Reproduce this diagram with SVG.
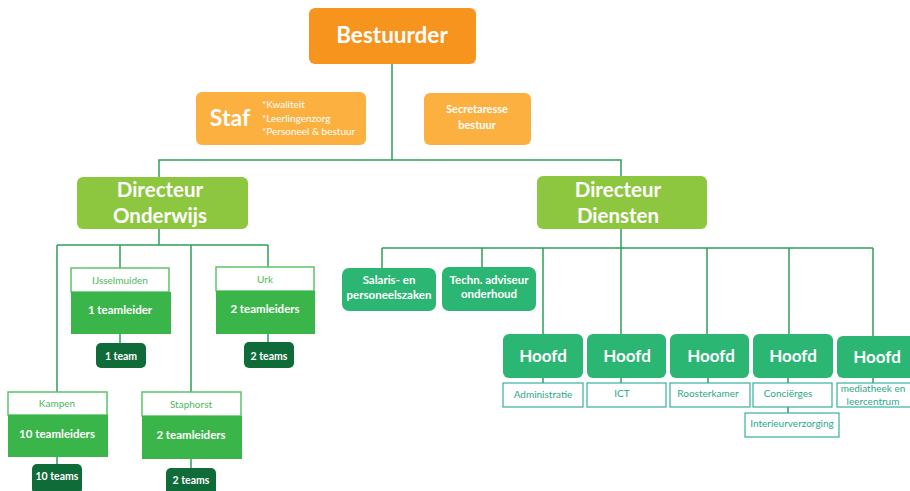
<svg xmlns="http://www.w3.org/2000/svg" width="910" height="491" viewBox="0 0 910 491">
<style>
text{font-family:Lato,"Open Sans","Liberation Sans",sans-serif;text-anchor:middle}
.w{fill:#fff;font-weight:bold}
.con line,.con polyline{stroke:#2E9E5B;stroke-width:1.5;fill:none}
.org{fill:#F7941D}
.lor{fill:#FBB040}
.dir{fill:#8DC63F}
.grn{fill:#3AB54A}
.med{fill:#2BB673}
.dk{fill:#0F6B37}
.wb{fill:#fff;stroke:#5CC36A;stroke-width:1.5}
.tb{fill:#fff;stroke:#35B0A0;stroke-width:1.2}
.gt{fill:#4DB860;font-size:10px}
.tt{fill:#2AA88A;font-size:10px}
</style>
<g id="connectors" class="con">
<line x1="392" y1="64" x2="392" y2="160"/>
<polyline points="159,177 159,160 621,160 621,177"/>
<line x1="159" y1="229" x2="159" y2="245"/>
<line x1="57" y1="245" x2="268" y2="245"/>
<line x1="57" y1="245" x2="57" y2="392"/>
<line x1="120" y1="245" x2="120" y2="268"/>
<line x1="191" y1="245" x2="191" y2="392"/>
<line x1="268" y1="245" x2="268" y2="267"/>
<line x1="120" y1="334" x2="120" y2="343"/>
<line x1="268" y1="334" x2="268" y2="342"/>
<line x1="57" y1="457" x2="57" y2="464"/>
<line x1="191" y1="459" x2="191" y2="468"/>
<line x1="621" y1="229" x2="621" y2="334"/>
<line x1="382" y1="248" x2="873" y2="248"/>
<line x1="382" y1="248" x2="382" y2="268"/>
<line x1="482" y1="248" x2="482" y2="267"/>
<line x1="543" y1="248" x2="543" y2="334"/>
<line x1="707" y1="248" x2="707" y2="334"/>
<line x1="789" y1="248" x2="789" y2="334"/>
<line x1="873" y1="248" x2="873" y2="336"/>
<line x1="543" y1="378" x2="543" y2="383"/>
<line x1="621" y1="378" x2="621" y2="383"/>
<line x1="708" y1="378" x2="708" y2="383"/>
<line x1="788" y1="378" x2="788" y2="383"/>
<line x1="873" y1="378" x2="873" y2="383"/>
<line x1="788" y1="407" x2="788" y2="413"/>
</g>
<g id="bestuurder"><rect class="org" x="309" y="8" width="167" height="56" rx="6"/><text class="w" x="392" y="43" font-size="22.5">Bestuurder</text></g>
<g id="staf"><rect class="lor" x="196" y="92" width="170" height="53" rx="6"/><text class="w" x="230" y="126" font-size="23">Staf</text>
<text fill="#fff" font-size="10" style="text-anchor:start" x="262" y="108">*Kwaliteit</text>
<text fill="#fff" font-size="10" style="text-anchor:start" x="262" y="122">*Leerlingenzorg</text>
<text fill="#fff" font-size="10" style="text-anchor:start" x="262" y="135">*Personeel &amp; bestuur</text></g>
<g id="secretaresse"><rect class="lor" x="424" y="93" width="107" height="52" rx="6"/><text class="w" x="477" y="113" font-size="11">Secretaresse</text><text class="w" x="477" y="129" font-size="11">bestuur</text></g>
<g id="dir-onderwijs"><rect class="dir" x="77" y="177" width="171" height="52" rx="6"/><text class="w" x="160" y="197" font-size="20.5">Directeur</text><text class="w" x="160" y="223" font-size="20.5">Onderwijs</text></g>
<g id="dir-diensten"><rect class="dir" x="537" y="176" width="170" height="53" rx="6"/><text class="w" x="618" y="197" font-size="20.5">Directeur</text><text class="w" x="618" y="223" font-size="20.5">Diensten</text></g>
<g id="ijsselmuiden"><rect class="wb" x="71" y="268" width="98" height="24"/><text class="gt" x="120" y="284">IJsselmuiden</text><rect class="grn" x="71" y="292" width="100" height="42"/><text class="w" x="120" y="314" font-size="11.5">1 teamleider</text></g>
<g id="team-ijs"><rect class="dk" x="96" y="343" width="50" height="25" rx="5"/><text class="w" x="121" y="360" font-size="10.5">1 team</text></g>
<g id="urk"><rect class="wb" x="216" y="267" width="98" height="24"/><text class="gt" x="265" y="283">Urk</text><rect class="grn" x="216" y="291" width="99" height="43"/><text class="w" x="265" y="313" font-size="11.5">2 teamleiders</text></g>
<g id="team-urk"><rect class="dk" x="244" y="342" width="50" height="26" rx="5"/><text class="w" x="269" y="360" font-size="10.5">2 teams</text></g>
<g id="kampen"><rect class="wb" x="8" y="392" width="99" height="23"/><text class="gt" x="57" y="407">Kampen</text><rect class="grn" x="8" y="415" width="100" height="42"/><text class="w" x="57" y="438" font-size="11.5">10 teamleiders</text></g>
<g id="team-kampen"><rect class="dk" x="32" y="464" width="50" height="30" rx="5"/><text class="w" x="57" y="480" font-size="10.5">10 teams</text></g>
<g id="staphorst"><rect class="wb" x="142" y="392" width="99" height="24"/><text class="gt" x="191" y="408">Staphorst</text><rect class="grn" x="142" y="416" width="100" height="43"/><text class="w" x="191" y="439" font-size="11.5">2 teamleiders</text></g>
<g id="team-staphorst"><rect class="dk" x="166" y="468" width="50" height="28" rx="5"/><text class="w" x="191" y="484" font-size="10.5">2 teams</text></g>
<g id="salaris"><rect class="med" x="342" y="268" width="94" height="43" rx="7"/><text class="w" x="389" y="284" font-size="11.5">Salaris- en</text><text class="w" x="389" y="299" font-size="11.5">personeelszaken</text></g>
<g id="techn"><rect class="med" x="442" y="267" width="94" height="44" rx="7"/><text class="w" x="489" y="284" font-size="11.5">Techn. adviseur</text><text class="w" x="489" y="298" font-size="11.5">onderhoud</text></g>
<g id="hoofd-adm"><rect class="med" x="503" y="334" width="80" height="44" rx="6"/><text class="w" x="543" y="362" font-size="17">Hoofd</text><rect class="tb" x="503" y="383" width="80" height="24"/><text class="tt" x="543" y="398">Administratie</text></g>
<g id="hoofd-ict"><rect class="med" x="587" y="334" width="79" height="44" rx="6"/><text class="w" x="627" y="362" font-size="17">Hoofd</text><rect class="tb" x="587" y="383" width="79" height="24"/><text class="tt" x="622" y="397">ICT</text></g>
<g id="hoofd-rooster"><rect class="med" x="670" y="334" width="79" height="44" rx="6"/><text class="w" x="711" y="362" font-size="17">Hoofd</text><rect class="tb" x="670" y="383" width="80" height="24"/><text class="tt" x="708" y="397">Roosterkamer</text></g>
<g id="hoofd-conc"><rect class="med" x="753" y="334" width="80" height="44" rx="6"/><text class="w" x="793" y="362" font-size="17">Hoofd</text><rect class="tb" x="753" y="383" width="79" height="24"/><text class="tt" x="788" y="397">Conciërges</text></g>
<g id="interieur"><rect class="tb" x="745" y="413" width="94" height="24"/><text class="tt" x="792" y="427">Interieurverzorging</text></g>
<g id="hoofd-med"><rect class="med" x="837" y="336" width="82" height="42" rx="6"/><text class="w" x="877" y="363" font-size="17">Hoofd</text><rect class="tb" x="837" y="383" width="82" height="24"/><text class="tt" x="873" y="392">mediatheek en</text><text class="tt" x="873" y="405">leercentrum</text></g>
</svg>
